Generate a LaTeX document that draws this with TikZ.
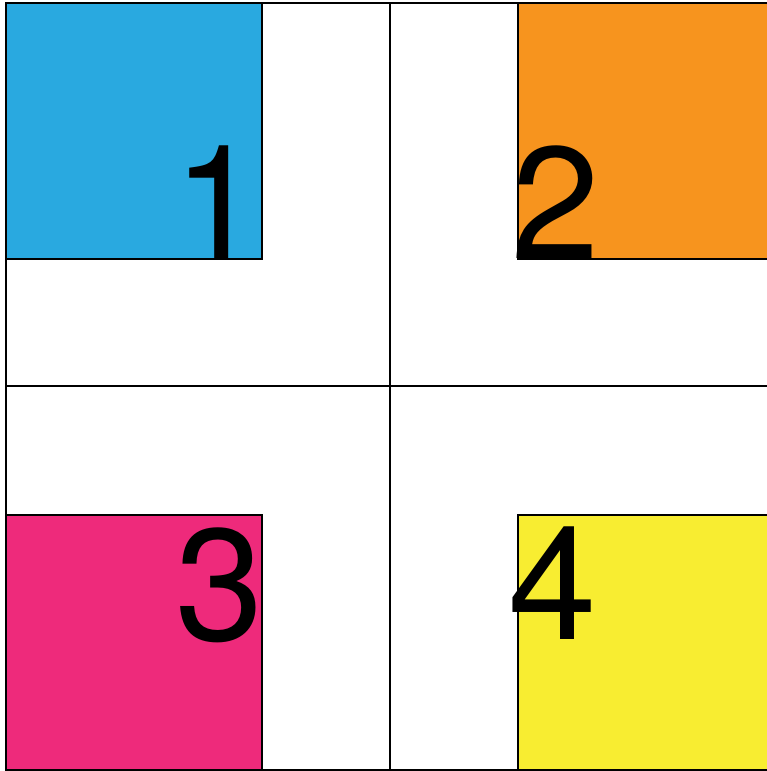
\documentclass[tikz,border=0pt]{standalone}
\usepackage{fontspec}
\setmainfont{TeX Gyre Heros}
\definecolor{cblue}{RGB}{41,169,224}
\definecolor{corange}{RGB}{247,148,30}
\definecolor{cpink}{RGB}{238,42,123}
\definecolor{cyellow}{RGB}{248,237,49}
\tikzset{
  sq/.style={draw=black,line width=2.6pt},
  gridline/.style={draw=black,line width=2.6pt},
  digit/.style={inner sep=0pt,font=\fontsize{159}{159}\selectfont}
}
\begin{document}
\begin{tikzpicture}[x=1pt,y=-1pt]
\useasboundingbox (0,0) rectangle (767,771);
\clip (0,0) rectangle (767,771);
\fill[white] (0,0) rectangle (767,771);
% grid
\draw[gridline] (6,3) rectangle (774,770);
\draw[gridline] (390,3) -- (390,770);
\draw[gridline] (6,386) -- (774,386);
% squares
\filldraw[sq,fill=cblue] (6,3) rectangle (262,259);
\filldraw[sq,fill=corange] (518,3) rectangle (780,259);
\filldraw[sq,fill=cpink] (6,515) rectangle (262,770);
\filldraw[sq,fill=cyellow] (518,515) rectangle (780,770);
% digits
\node[digit,anchor=base west] (n1) at (173,258) {1};
\node[digit,anchor=base west] (n2) at (511,258) {2};
\node[digit,anchor=base west] (n3) at (175,640) {3};
\node[digit,anchor=base west] (n4) at (508,639) {4};
\end{tikzpicture}
\end{document}
